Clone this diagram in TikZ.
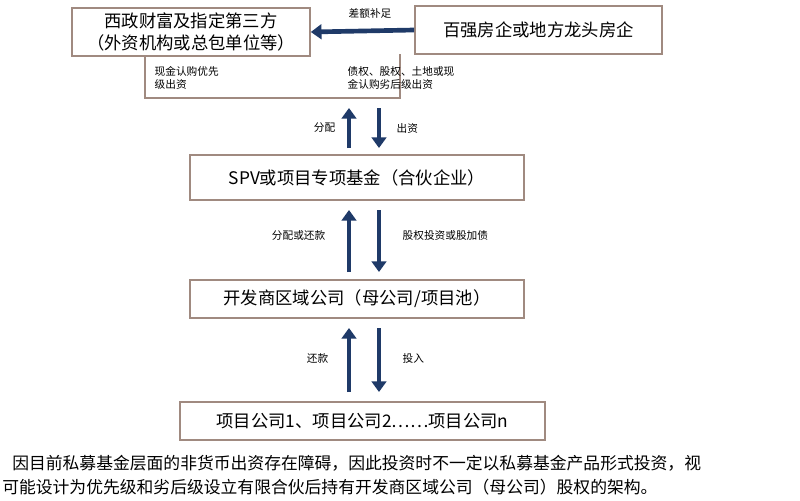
\documentclass[tikz,border=0pt]{standalone}
\usepackage{fontspec}
\setmainfont{Noto Sans CJK SC}
\usetikzlibrary{arrows.meta}
\definecolor{navy}{HTML}{1F3A68}
\definecolor{boxc}{HTML}{A08A80}
\begin{document}
\begin{tikzpicture}[x=0.75pt,y=-0.75pt,
  box/.style={draw=boxc,line width=1.2pt,fill=white,inner sep=0pt},
  arr/.style={draw=navy,line width=3.5pt,-{Triangle[length=8pt,width=11pt]}},
  lbl/.style={font=\fontsize{8}{10}\selectfont,align=left},
  big/.style={font=\fontsize{13}{16}\selectfont}]
\clip (0,0) rectangle (800,500);
\useasboundingbox (0,0) rectangle (800,500);
\fill[white] (0,0) rectangle (800,500);
\draw[draw=boxc,line width=0.8pt] (145,56) -- (145,98) -- (400,98) -- (400,54);
\node[box,minimum width=238*0.75pt,minimum height=48*0.75pt,big,align=center] (a) at (191,32) {西政财富及指定第三方\\（外资机构或总包单位等）};
\node[box,minimum width=247*0.75pt,minimum height=48*0.75pt,big] (b) at (538.5,30) {百强房企或地方龙头房企};
\node[box,minimum width=334*0.75pt,minimum height=45*0.75pt,big] (c) at (357,177.5) {SPV或项目专项基金（合伙企业）};
\node[box,minimum width=334*0.75pt,minimum height=38*0.75pt,big] (d) at (357,299) {开发商区域公司（母公司/项目池）};
\node[box,minimum width=365*0.75pt,minimum height=38*0.75pt,big] (e) at (362.5,421) {项目公司1、项目公司2……项目公司n};
\draw[arr] (b.west) -- (a.east);
\node[lbl] (l0) at (370,13) {差额补足};
\node[lbl,anchor=west] (l1) at (150,78) {现金认购优先\\级出资};
\node[lbl,anchor=west] (l2) at (343,78) {债权、股权、土地或现\\金认购劣后级出资};
\coordinate (u1s) at (349,148); \coordinate (u1e) at (349,108);
\coordinate (d1s) at (379,108); \coordinate (d1e) at (379,148);
\draw[arr] (u1s) -- (u1e); \draw[arr] (d1s) -- (d1e);
\node[lbl,anchor=east] at (340,128) {分配};
\node[lbl,anchor=west] at (392,128) {出资};
\coordinate (u2s) at (349,272); \coordinate (u2e) at (349,210);
\coordinate (d2s) at (379,210); \coordinate (d2e) at (379,272);
\draw[arr] (u2s) -- (u2e); \draw[arr] (d2s) -- (d2e);
\node[lbl,anchor=east] at (330,235) {分配或还款};
\node[lbl,anchor=west] at (398,235) {股权投资或股加债};
\coordinate (u3s) at (349,392); \coordinate (u3e) at (349,328);
\coordinate (d3s) at (379,328); \coordinate (d3e) at (379,392);
\draw[arr] (u3s) -- (u3e); \draw[arr] (d3s) -- (d3e);
\node[lbl,anchor=east] at (333,358) {还款};
\node[lbl,anchor=west] at (398,358) {投入};
\node[anchor=west,font=\fontsize{12.6}{15}\selectfont,inner sep=0pt] (f1) at (12,463) {因目前私募基金层面的非货币出资存在障碍，因此投资时不一定以私募基金产品形式投资，视};
\node[anchor=west,font=\fontsize{12.6}{15}\selectfont,inner sep=0pt] (f2) at (2,487) {可能设计为优先级和劣后级设立有限合伙后持有开发商区域公司（母公司）股权的架构。};
\end{tikzpicture}
\end{document}
